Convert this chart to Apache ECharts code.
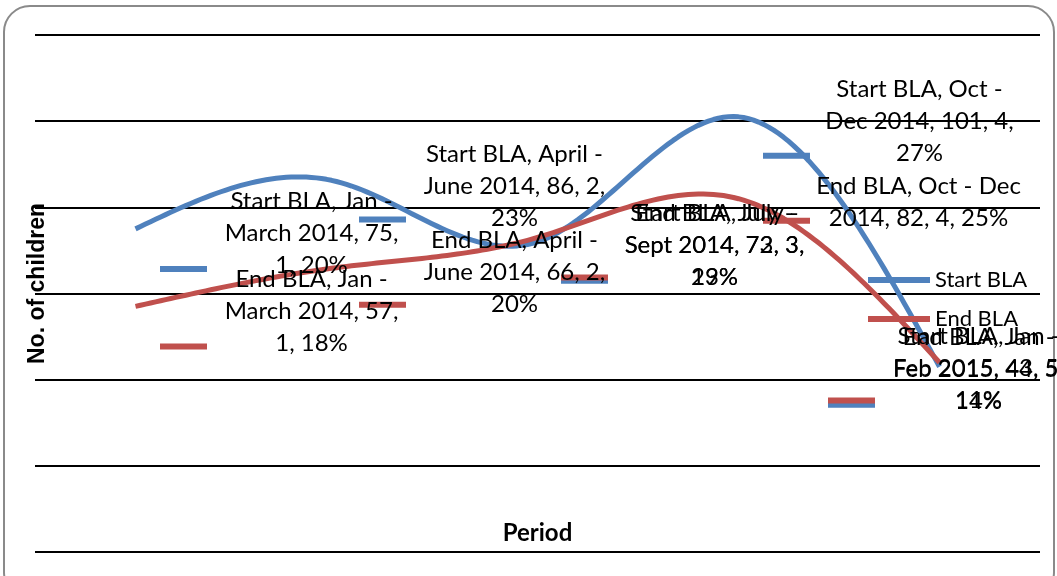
<!DOCTYPE html>
<html>
<head>
<meta charset="utf-8">
<script src="https://cdn.jsdelivr.net/npm/echarts@6/dist/echarts.min.js"></script>
<style>
  html, body { margin: 0; padding: 0; background: #fff; }
  #chart { width: 1057px; height: 576px; }
</style>
</head>
<body>
<div id="chart"></div>
<script>
// data
var categories = ["Jan - March 2014", "April - June 2014", "July - Sept 2014", "Oct - Dec 2014", "Jan - Feb 2015"];
var startBLA = [75, 86, 72, 101, 43];
var endBLA = [57, 66, 73, 82, 44];
var yMin = 0, yMax = 120, yStep = 20;

// where the data labels and their little legend keys sit (pixel offsets from the point)
var startLabelOffset = [[176, 4], [178, 5], [177, 3], [181, 4], [39, 2]];
var endLabelOffset = [[176, 5], [178, 5], [177, 8], [180, 4], [39, 7]];
var startKeyOffset = [[48, 40], [46, 38], [47, 39], [48, 39], [-88, 38]];
var endKeyOffset = [[48, 40], [46, 37], [47, 40], [48, 22], [-88, 38]];
// how many words go on each wrapped line of a label
var startLines = [[4, 3, 2], [4, 4, 1], [4, 4, 1], [4, 4, 1], [4, 4, 1]];
var endLines = [[4, 3, 2], [4, 4, 1], [4, 4, 1], [5, 4], [4, 4, 1]];

var blue = "#4F81BD";
var red = "#C0504D";
var font = "Lato";

function sum(arr) {
  return arr.reduce(function (a, b) { return a + b; }, 0);
}

function wrap(text, counts) {
  var words = text.split(" ");
  var out = [], k = 0;
  counts.forEach(function (n) {
    out.push(words.slice(k, k + n).join(" "));
    k += n;
  });
  return out.join("\n");
}

// natural cubic spline second derivatives, x = 0,1,2,...
function splineM(y) {
  var n = y.length, M = new Array(n).fill(0);
  if (n < 3) return M;
  var a = [], b = [], c = [], d = [];
  for (var i = 1; i < n - 1; i++) {
    a.push(1); b.push(4); c.push(1);
    d.push(6 * (y[i + 1] - 2 * y[i] + y[i - 1]));
  }
  // thomas algorithm
  var m = d.length;
  for (var k = 1; k < m; k++) {
    var w = a[k] / b[k - 1];
    b[k] -= w * c[k - 1];
    d[k] -= w * d[k - 1];
  }
  var sol = new Array(m);
  sol[m - 1] = d[m - 1] / b[m - 1];
  for (k = m - 2; k >= 0; k--) sol[k] = (d[k] - c[k] * sol[k + 1]) / b[k];
  for (k = 0; k < m; k++) M[k + 1] = sol[k];
  return M;
}

function curveSeries(name, values, color) {
  var M = splineM(values);
  return {
    name: name,
    type: "custom",
    itemStyle: { color: color },
    silent: true,
    renderItem: function (params, api) {
      if (params.dataIndex !== 0) return null;
      var pts = [];
      for (var i = 0; i < values.length - 1; i++) {
        var y0 = values[i], y1 = values[i + 1];
        var xa = api.coord([i, y0])[0], xb = api.coord([i + 1, y1])[0];
        var b = (y1 - y0) - (2 * M[i] + M[i + 1]) / 6;
        for (var s = 0; s <= 40; s++) {
          if (i > 0 && s === 0) continue;
          var t = s / 40;
          var v = y0 + b * t + M[i] / 2 * t * t + (M[i + 1] - M[i]) / 6 * t * t * t;
          pts.push([xa + (xb - xa) * t, api.coord([i, v])[1]]);
        }
      }
      return {
        type: "polyline",
        shape: { points: pts },
        style: { stroke: color, lineWidth: 5, fill: null, lineJoin: "round" }
      };
    },
    data: values.map(function (v, k) { return [k, v]; }),
    z: 2
  };
}

function labelSeries(name, values, offsets, lines) {
  var total = sum(values);
  return {
    name: name + " labels",
    type: "scatter",
    symbol: "circle",
    symbolSize: 1,
    itemStyle: { color: "transparent", opacity: 1 },
    silent: true,
    label: {
      show: true,
      position: "inside",
      color: "#000",
      fontFamily: font,
      fontSize: 24,
      lineHeight: 32,
      align: "center",
      formatter: function (p) {
        var pct = Math.round(p.value / total * 100);
        var txt = name + ", " + p.name + ", " + p.value + ", " + (p.dataIndex + 1) + ", " + pct + "%";
        return wrap(txt, lines[p.dataIndex]);
      }
    },
    data: values.map(function (v, i) {
      return { value: v, label: { offset: offsets[i] } };
    }),
    z: 4
  };
}

function keySeries(name, values, color, offsets) {
  return {
    name: name + " key",
    type: "scatter",
    symbol: "rect",
    symbolSize: [47, 6],
    itemStyle: { color: color, opacity: 1 },
    silent: true,
    data: values.map(function (v, i) {
      return { value: v, symbolOffset: offsets[i] };
    }),
    z: 3
  };
}

var legendText = { fontFamily: font, fontSize: 22, color: "#000" };

var chart = echarts.init(document.getElementById("chart"));

var option = {
  animation: false,
  grid: { left: 35, right: 17, top: 35, bottom: 24 },
  graphic: [{
    type: "rect",
    shape: { x: 4, y: 6, width: 1050, height: 592, r: 26 },
    style: { fill: "none", stroke: "#8a8a8a", lineWidth: 2 },
    silent: true
  }],
  legend: {
    data: [
      { name: "Start BLA", textStyle: legendText },
      { name: "End BLA", textStyle: legendText }
    ],
    orient: "vertical",
    left: 863,
    top: 264,
    icon: "rect",
    itemWidth: 62,
    itemHeight: 6,
    itemGap: 17,
    textStyle: legendText
  },
  xAxis: {
    type: "category",
    data: categories,
    boundaryGap: true,
    name: "Period",
    nameLocation: "middle",
    nameGap: -31,
    nameTextStyle: { fontFamily: font, fontSize: 24, fontWeight: "bold", color: "#000" },
    axisLine: { show: false },
    axisTick: { show: false },
    axisLabel: { show: false }
  },
  yAxis: {
    type: "value",
    min: yMin,
    max: yMax,
    interval: yStep,
    name: "No. of children",
    nameLocation: "middle",
    nameRotate: 90,
    nameGap: -14,
    nameTextStyle: {
      fontFamily: "Liberation Sans", fontSize: 23, fontWeight: "bold", color: "#000",
      padding: [0, 0, 0, 20]
    },
    axisLine: { show: false },
    axisTick: { show: false },
    axisLabel: { show: false },
    splitLine: { lineStyle: { color: "#000", width: 2 } }
  },
  series: [
    curveSeries("Start BLA", startBLA, blue),
    curveSeries("End BLA", endBLA, red),
    keySeries("Start BLA", startBLA, blue, startKeyOffset),
    keySeries("End BLA", endBLA, red, endKeyOffset),
    labelSeries("Start BLA", startBLA, startLabelOffset, startLines),
    labelSeries("End BLA", endBLA, endLabelOffset, endLines)
  ]
};

chart.setOption(option);
</script>
</body>
</html>
